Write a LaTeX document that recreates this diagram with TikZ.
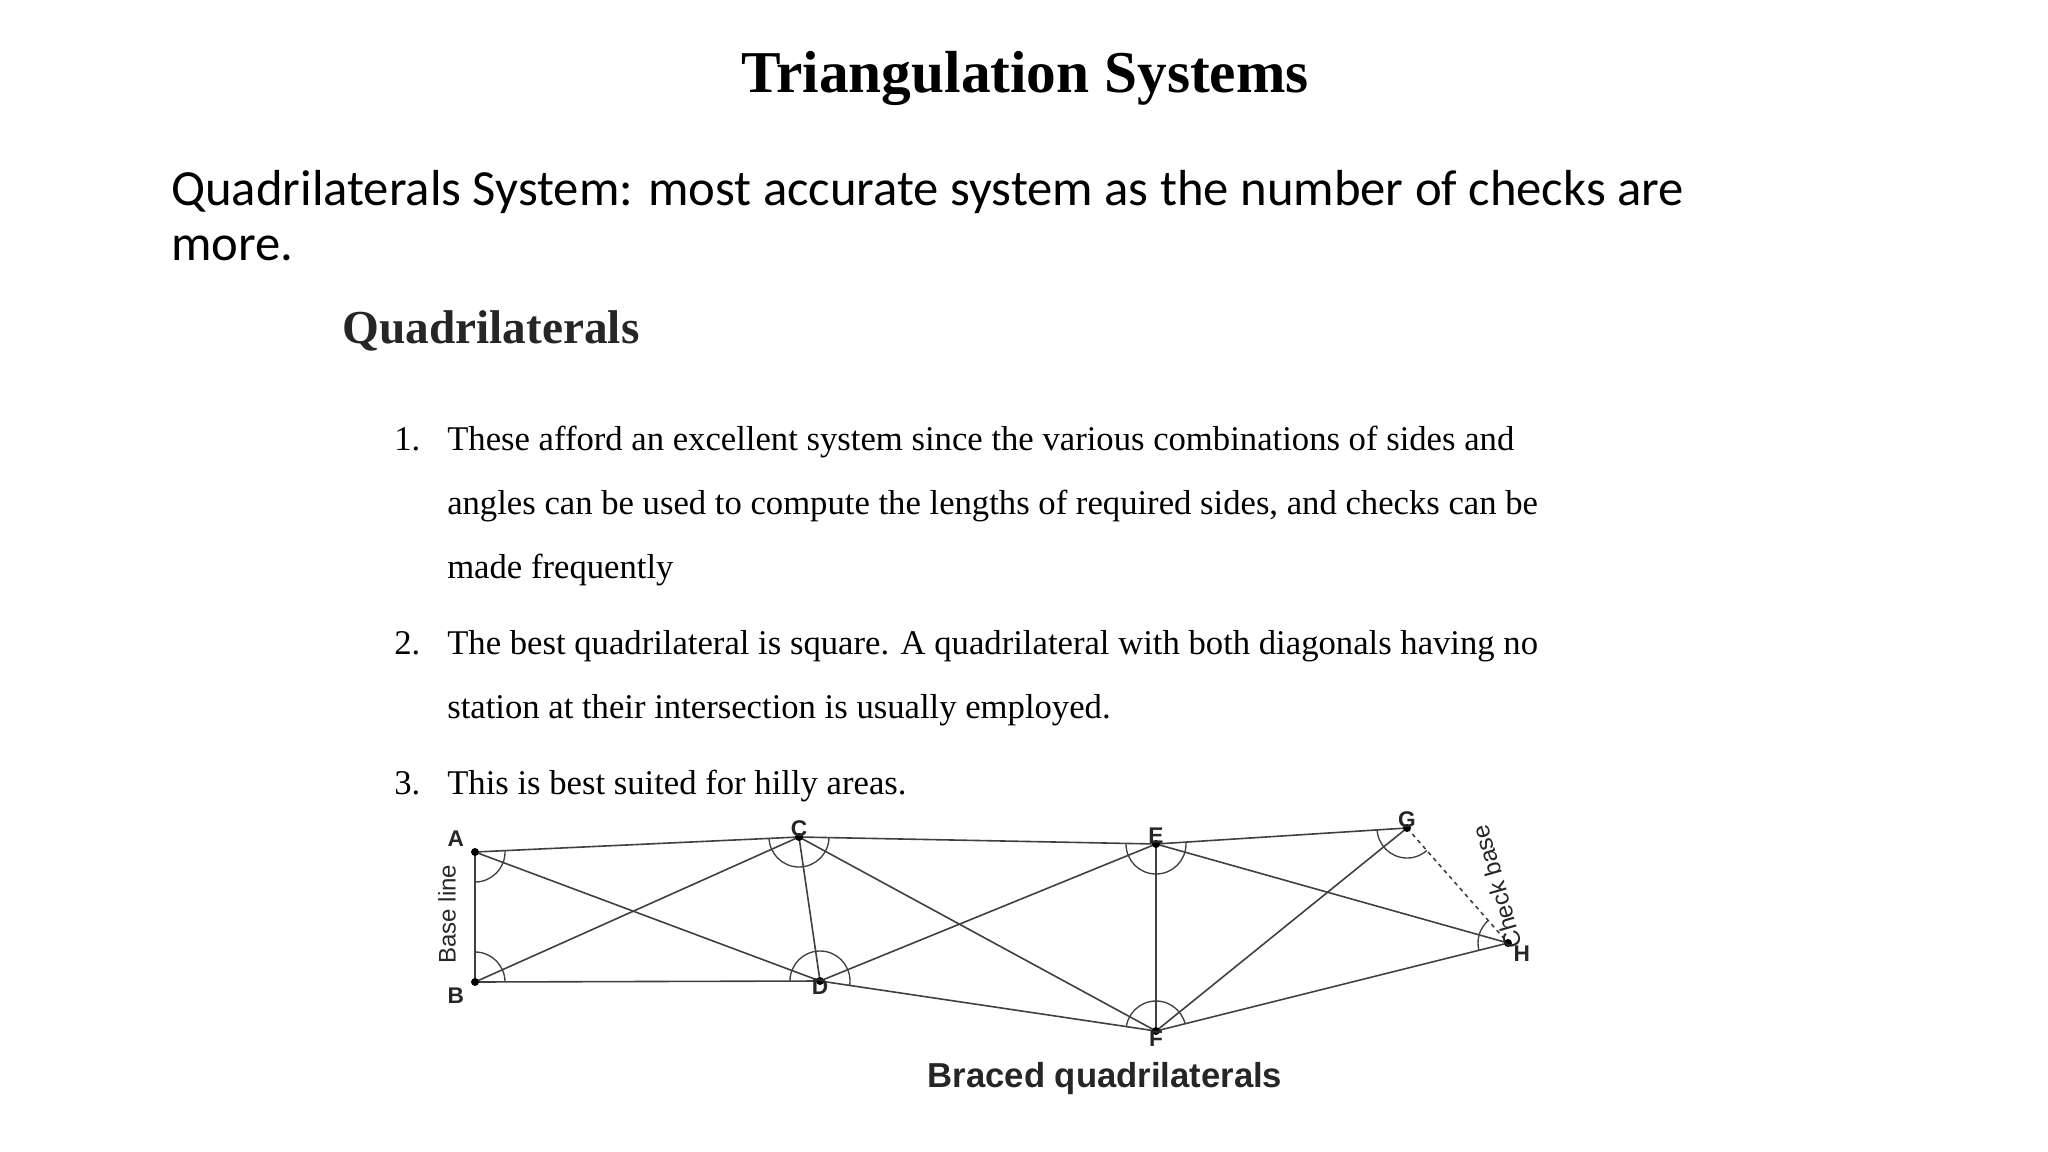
\documentclass[tikz,border=0pt]{standalone}
\usepackage{fontspec}
\usetikzlibrary{calc}
\setmainfont{Liberation Serif}
\newfontfamily\carlitofont{Carlito}
\newfontfamily\lsans{Liberation Sans}
\begin{document}
\begin{tikzpicture}[x=0.75pt,y=-0.75pt,
  edge/.style={draw=black!75,line width=1.2pt},
  dot/.style={circle,fill=black,inner sep=0pt,minimum size=6pt},
  lab/.style={font=\lsans\bfseries\fontsize{17}{17}\selectfont,text=black!85,inner sep=4pt},
  item/.style={anchor=base west,font=\fontsize{26}{26}\selectfont,inner sep=0pt}]
\useasboundingbox (0,0) rectangle (2048,1152);
\node (title) at (1025,78) {\fontsize{44.5}{44.5}\selectfont\bfseries Triangulation Systems};
\node[anchor=base west,inner sep=0pt] (sub1) at (171,205) {\carlitofont\fontsize{38}{38}\selectfont Quadrilaterals System: most accurate system as the number of checks are};
\node[anchor=base west,inner sep=0pt] (sub2) at (171,260) {\carlitofont\fontsize{38}{38}\selectfont more.};
\node[anchor=base west,inner sep=0pt,text=black!85] (quad) at (342,343) {\fontsize{35.5}{35.5}\selectfont\bfseries Quadrilaterals};
\node[item] (n1) at (394,450) {1.};
\node[item] (l1) at (447,450) {These afford an excellent system since the various combinations of sides and};
\node[item] (l2) at (447,514) {angles can be used to compute the lengths of required sides, and checks can be};
\node[item] (l3) at (447,578) {made frequently};
\node[item] (n2) at (394,654) {2.};
\node[item] (l4) at (447,654) {The best quadrilateral is square. A quadrilateral with both diagonals having no};
\node[item] (l5) at (447,718) {station at their intersection is usually employed.};
\node[item] (n3) at (394,794) {3.};
\node[item] (l6) at (447,794) {This is best suited for hilly areas.};
% stations
\coordinate (A) at (475,852);
\coordinate (B) at (475,982);
\coordinate (C) at (799,837);
\coordinate (D) at (820,981);
\coordinate (E) at (1156,844);
\coordinate (F) at (1156,1031);
\coordinate (G) at (1407,828);
\coordinate (H) at (1508,943);
\foreach \p/\q in {A/B,A/C,A/D,B/C,B/D,C/D,C/E,C/F,D/E,D/F,E/F,E/G,E/H,F/G,F/H}
  \draw[edge] (\p) -- (\q);
\draw[edge,dashed] (G) -- (H);
\foreach \v/\p/\q in {A/C/D,A/D/B,B/A/C,B/C/D,C/A/B,C/D/F,C/F/E,C/B/D,D/B/A,D/A/C,D/C/E,D/E/F,E/C/D,E/D/F,E/F/H,E/H/G,F/D/C,F/C/E,F/E/G,F/G/H,G/E/F,G/F/H,H/G/E,H/E/F}{
  \begin{scope}\clip (\v) -- ($(\v)!12!(\p)$) -- ($(\v)!12!(\q)$) -- cycle;
  \draw[black!75,line width=1pt] (\v) circle (30);\end{scope}}
\foreach \v in {A,B,C,D,E,F,G,H} \node[dot] (d\v) at (\v) {};
\node[lab,anchor=south east] (lA) at ([xshift=-4]A) {A};
\node[lab,anchor=north east] (lB) at ([xshift=-4]B) {B};
\node[lab,anchor=south] (lC) at ([yshift=-4]C) {C};
\node[lab,anchor=north] (lD) at ([yshift=6]D) {D};
\node[lab,anchor=south] (lE) at ([yshift=-4]E) {E};
\node[lab,anchor=north] (lF) at ([yshift=4]F) {F};
\node[lab,anchor=south] (lG) at ([yshift=-4]G) {G};
\node[lab,anchor=north west] (lH) at ([yshift=2]H) {H};
\node[lab,rotate=90,font=\lsans\fontsize{18}{18}\selectfont] (base) at (447,914) {Base line};
\node[lab,rotate=106,font=\lsans\fontsize{18}{18}\selectfont] (check) at (1497,887) {Check base};
\node[font=\lsans\bfseries\fontsize{26}{26}\selectfont,text=black!85] (cap) at (1105,1079) {Braced quadrilaterals};
\end{tikzpicture}
\end{document}
